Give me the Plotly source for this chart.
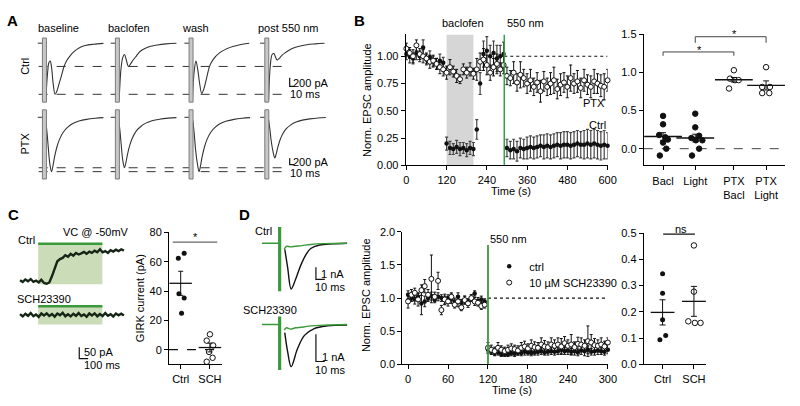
import plotly.graph_objects as go

W, H = 800, 406
FONT = "Liberation Sans, Arial, Helvetica, sans-serif"
BLACK = "#111111"
GREEN = "#3a9a3a"
GREEN_B = "#33a24a"
LIGHT_GREEN = "#cadcb8"


def px(x):
    return x / W


def py(y):
    return 1 - y / H


# ======================= DATA =======================
# ---- Panel A: example EPSCs (t: ms after stimulus, i: pA)
A_columns = ["baseline", "baclofen", "wash", "post 550 nm"]
A_pre_t = [-15, -3]
A_pre_i = [0, 0]
A_ctrl_baseline_t = [3, 7, 10, 13, 16, 20, 24, 28, 33, 38, 44, 50, 57, 66, 78, 92, 110, 133]
A_ctrl_baseline_i = [-1300, -700, -450, -410, -550, -950, -1171, -1100, -930, -760, -540, -400, -300, -200, -110, -55, -25, -5]
A_ctrl_baclofen_t = [4, 8, 12, 16, 20, 25, 30, 36, 43, 51, 62, 75, 90, 110, 133]
A_ctrl_baclofen_i = [-1300, -600, -330, -260, -380, -533, -470, -380, -290, -190, -120, -70, -40, -15, 0]
A_ctrl_wash_t = [3, 7, 11, 15, 19, 24, 29, 35, 42, 50, 64, 80, 94, 110, 131]
A_ctrl_wash_i = [-1300, -650, -409, -600, -900, -1150, -1040, -800, -520, -370, -222, -130, -75, -35, 0]
A_ctrl_post_t = [4, 8, 12, 16, 20, 23, 28, 34, 41, 50, 60, 71, 90, 110, 130]
A_ctrl_post_i = [-1300, -500, -260, -238, -330, -387, -350, -280, -222, -160, -110, -75, -35, -15, 0]
A_ptx_baseline_t = [3, 6, 9, 12, 16, 19, 23, 28, 34, 42, 52, 64, 78, 95, 115, 133]
A_ptx_baseline_i = [-100, -500, -1000, -1450, -1723, -1560, -1250, -950, -700, -480, -320, -200, -120, -65, -30, -10]
A_ptx_baclofen_t = [3, 6, 9, 12, 16, 19, 23, 28, 34, 42, 52, 64, 78, 95, 115, 133]
A_ptx_baclofen_i = [-90, -460, -930, -1350, -1600, -1450, -1160, -880, -650, -445, -300, -185, -110, -60, -27, -9]
A_ptx_wash_t = [4, 7, 10, 14, 18, 21, 25, 30, 36, 44, 54, 66, 80, 97, 115, 133]
A_ptx_wash_i = [-100, -500, -1000, -1450, -1723, -1560, -1250, -950, -700, -480, -320, -200, -120, -65, -30, -10]
A_ptx_post_t = [4, 7, 10, 14, 18, 21, 25, 30, 36, 44, 54, 66, 80, 97, 115, 133]
A_ptx_post_i = [-80, -380, -760, -1090, -1292, -1170, -940, -710, -525, -360, -240, -150, -90, -50, -22, -8]
A_ctrl_ref_pA = [-533, -1171]
A_ptx_ref_pA = [-1600, -1723]
A_scale_pA = 200
A_scale_ms = 10

# ---- Panel B: normalised EPSC amplitude time course
B_time = list(range(0, 601, 10))
B_ctrl_mean = [1.02, 1.00, 0.98, 1.03, 1.00, 1.08, 0.97, 0.99, 0.95, 0.93, 0.96, 0.94,
               0.20, 0.16, 0.15, 0.17, 0.15, 0.16, 0.14, 0.16, 0.15,
               0.33, 0.75,
               1.02, 1.05, 1.00, 1.03, 0.98, 1.00, 1.02,
               0.16, 0.14, 0.15, 0.13, 0.16, 0.15, 0.16, 0.17, 0.16, 0.17,
               0.18, 0.17, 0.18, 0.17, 0.18, 0.19, 0.18, 0.19, 0.19, 0.18,
               0.19, 0.20, 0.19, 0.19, 0.20, 0.19, 0.20, 0.19, 0.18, 0.19, 0.18]
B_ctrl_sem = [0.05, 0.06, 0.05, 0.06, 0.05, 0.07, 0.05, 0.06, 0.05, 0.05, 0.06, 0.05,
              0.06, 0.06, 0.05, 0.06, 0.06, 0.05, 0.06, 0.06, 0.06,
              0.09, 0.10,
              0.12, 0.13, 0.10, 0.11, 0.12, 0.10, 0.11,
              0.08, 0.08, 0.09, 0.09, 0.09, 0.09, 0.10, 0.10, 0.10, 0.10,
              0.10, 0.11, 0.11, 0.11, 0.11, 0.11, 0.12, 0.12, 0.12, 0.12,
              0.12, 0.12, 0.12, 0.13, 0.13, 0.13, 0.13, 0.13, 0.13, 0.13, 0.12]
B_ptx_mean = [1.07, 1.03, 1.00, 1.10, 1.02, 1.00, 0.98, 0.95, 0.96, 0.93, 0.90, 0.88,
              0.85, 0.90, 0.86, 0.82, 0.79, 0.88, 0.85, 0.88, 0.84,
              0.88, 0.95, 0.97, 0.92, 0.85, 0.90, 0.93, 0.88, 0.92,
              0.82, 0.80, 0.85, 0.76, 0.83, 0.80, 0.75, 0.78, 0.72, 0.76,
              0.68, 0.77, 0.72, 0.75, 0.78, 0.70, 0.74, 0.76, 0.72, 0.80,
              0.75, 0.77, 0.71, 0.78, 0.74, 0.72, 0.77, 0.75, 0.73, 0.72, 0.78]
B_ptx_sem = [0.05, 0.05, 0.06, 0.05, 0.05, 0.06, 0.05, 0.06, 0.05, 0.05, 0.06, 0.06,
             0.06, 0.07, 0.05, 0.06, 0.04, 0.05, 0.05, 0.06, 0.05,
             0.10, 0.08, 0.10, 0.09, 0.07, 0.08, 0.09, 0.06, 0.08,
             0.08, 0.07, 0.10, 0.08, 0.12, 0.08, 0.09, 0.10, 0.08, 0.09,
             0.10, 0.09, 0.08, 0.10, 0.12, 0.09, 0.10, 0.09, 0.10, 0.12,
             0.09, 0.10, 0.09, 0.10, 0.09, 0.10, 0.11, 0.09, 0.10, 0.12, 0.10]
B_baclofen_window = [120, 200]
B_light_on = 292

# ---- Panel B (right): summary
B_groups = ["Bacl", "Light", "PTX<br>Bacl", "PTX<br>Light"]
B_bacl_pts = [0.43, 0.32, 0.18, 0.15, 0.12, 0.08, 0.0, -0.09]
B_bacl_jit = [0.0, 0.0, -0.12, 0.07, 0.15, 0.0, 0.1, -0.1]
B_light_pts = [0.46, 0.28, 0.17, 0.14, 0.11, 0.11, 0.0, -0.09]
B_light_jit = [0.0, 0.0, 0.12, -0.12, 0.02, 0.22, 0.12, -0.1]
B_ptxbacl_pts = [1.03, 0.92, 0.90, 0.90, 0.79]
B_ptxbacl_jit = [0.0, -0.12, 0.03, 0.15, -0.15]
B_ptxlight_pts = [1.07, 0.81, 0.81, 0.73, 0.73]
B_ptxlight_jit = [0.0, -0.12, 0.12, -0.12, 0.1]
B_sum_mean = [0.16, 0.14, 0.905, 0.83]
B_sum_sem = [0.05, 0.05, 0.03, 0.06]

# ---- Panel C: GIRK currents
C_t = list(range(0, 1200, 30))
C_ctrl_i = [2, -6, 5, -3, 7, -5, 0, -8, 4, -10,
            -14, -8, 20, 55, 85, 95, 100, 112, 105, 118,
            110, 122, 115, 120, 126, 118, 128, 122, 132, 125,
            138, 125, 130, 122, 134, 128, 136, 130, 138, 132]
C_sch_i = [3, -7, 5, -4, 8, -6, 2, -9, 6, -3, 7, -5, 4, -8, 6, -2, 9, -6, 3, -7,
           5, -4, 8, -5, 2, -8, 6, -3, 7, -6, 4, -5, 8, -4, 3, -7, 6, -2, 5, -3]
C_light = [204, 927]
C_scale_pA = 50
C_scale_ms = 100
C_groups = ["Ctrl", "SCH"]
C_ctrl_pts = [62.4, 65.7, 38.1, 35.3, 24.9]
C_ctrl_jit = [-0.08, 0.12, -0.06, 0.12, 0.03]
C_sch_pts = [10.5, 6.2, 2.9, -1.5, -5.5, -8.2]
C_sch_jit = [0.0, -0.11, 0.11, -0.03, 0.09, -0.11]
C_mean = [45.3, 1.5]
C_sem = [8.2, 3.0]

# ---- Panel D: example EPSCs (t: ms, i: nA)
D_pre_t = [-20, -1]
D_pre_i = [0, 0]
D_ctrl_black_t = [5.8, 9, 13, 18, 24, 30, 35, 45, 60, 76]
D_ctrl_black_i = [-0.5, -2.0, -3.8, -3.0, -1.8, -0.9, -0.44, -0.15, -0.05, 0.0]
D_ctrl_green_t = [5, 8, 12, 18, 25, 35, 50, 76]
D_ctrl_green_i = [-0.5, -0.25, -0.3, -0.25, -0.2, -0.1, -0.03, 0.0]
D_sch_black_t = [5.8, 9, 13, 20, 28, 39, 54, 76]
D_sch_black_i = [-0.3, -1.0, -1.55, -0.9, -0.4, -0.15, -0.05, -0.02]
D_sch_green_t = [5, 8, 12, 18, 25, 35, 50, 76]
D_sch_green_i = [-0.2, -0.12, -0.17, -0.12, -0.1, -0.05, -0.02, 0.0]
D_scale_nA = 1
D_scale_ms = 10

# ---- Panel D: time course
D_time = list(range(0, 301, 5))
D_ctrl_mean = [1.05, 1.00, 0.98, 1.02, 0.92, 0.95, 1.00, 1.03, 0.98, 1.02, 1.00, 0.97,
               1.00, 0.99, 0.95, 1.02, 0.93, 0.97, 0.94, 1.00, 1.07, 0.96, 0.98, 0.95,
               0.22, 0.20, 0.17, 0.18, 0.15, 0.16, 0.15, 0.17, 0.16, 0.18,
               0.17, 0.19, 0.18, 0.17, 0.18, 0.19, 0.20, 0.18, 0.19, 0.20,
               0.19, 0.20, 0.22, 0.20, 0.21, 0.19, 0.20, 0.18, 0.21, 0.20,
               0.22, 0.19, 0.20, 0.21, 0.20, 0.19, 0.22]
D_ctrl_sem = [0.06, 0.05, 0.07, 0.05, 0.17, 0.08, 0.05, 0.06, 0.05, 0.06, 0.05, 0.06,
              0.05, 0.07, 0.05, 0.06, 0.05, 0.06, 0.05, 0.05, 0.04, 0.05, 0.05, 0.04,
              0.05, 0.04, 0.04, 0.04, 0.03, 0.04, 0.03, 0.04, 0.04, 0.04,
              0.04, 0.05, 0.04, 0.04, 0.04, 0.05, 0.05, 0.04, 0.05, 0.05,
              0.05, 0.05, 0.06, 0.05, 0.06, 0.05, 0.06, 0.05, 0.06, 0.07,
              0.06, 0.05, 0.06, 0.06, 0.05, 0.05, 0.06]
D_sch_mean = [0.95, 1.05, 1.08, 0.98, 1.12, 1.18, 1.05, 1.29, 1.02, 1.26, 0.82, 0.98,
              0.95, 1.02, 0.90, 0.95, 0.86, 0.97, 0.92, 1.00, 0.95, 0.93, 0.88, 0.90,
              0.25, 0.22, 0.20, 0.25, 0.22, 0.20, 0.22, 0.24, 0.23, 0.21,
              0.25, 0.27, 0.24, 0.28, 0.26, 0.25, 0.30, 0.27, 0.26, 0.30,
              0.28, 0.30, 0.27, 0.32, 0.28, 0.30, 0.26, 0.31, 0.30, 0.28,
              0.35, 0.33, 0.29, 0.28, 0.30, 0.27, 0.33]
D_sch_sem = [0.10, 0.08, 0.07, 0.10, 0.08, 0.10, 0.08, 0.36, 0.07, 0.13, 0.07, 0.08,
             0.07, 0.06, 0.05, 0.08, 0.05, 0.06, 0.06, 0.05, 0.06, 0.05, 0.05, 0.05,
             0.08, 0.07, 0.06, 0.08, 0.06, 0.06, 0.07, 0.07, 0.06, 0.07,
             0.08, 0.08, 0.07, 0.09, 0.08, 0.08, 0.10, 0.09, 0.08, 0.10,
             0.09, 0.10, 0.12, 0.10, 0.09, 0.15, 0.08, 0.10, 0.10, 0.09,
             0.23, 0.12, 0.10, 0.09, 0.10, 0.08, 0.07]
D_light_on = 120

# ---- Panel D (right): summary
D_groups = ["Ctrl", "SCH"]
D_ctrl_pts = [0.345, 0.271, 0.17, 0.11, 0.094]
D_ctrl_jit = [0.0, 0.0, 0.0, 0.1, -0.085]
D_sch_pts = [0.453, 0.277, 0.164, 0.158, 0.158]
D_sch_jit = [0.0, 0.0, -0.18, 0.03, 0.21]
D_mean = [0.198, 0.24]
D_sem = [0.048, 0.057]

# ======================= FIGURE =======================
fig = go.Figure()
layout = dict(width=W, height=H, margin=dict(l=0, r=0, t=0, b=0), autosize=False,
              paper_bgcolor="white", plot_bgcolor="rgba(0,0,0,0)",
              font=dict(family=FONT, size=11, color="black"), showlegend=True)
annotations = []
shapes = []


def axis_pair(n, xd, yd, xr, yr, visible=True):
    xs = "xaxis" if n == 1 else f"xaxis{n}"
    ys = "yaxis" if n == 1 else f"yaxis{n}"
    xn = "x" if n == 1 else f"x{n}"
    yn = "y" if n == 1 else f"y{n}"
    base = dict(showgrid=False, zeroline=False, fixedrange=True)
    if visible:
        style = dict(showline=True, linecolor="black", linewidth=1, ticks="outside",
                     ticklen=4, tickwidth=1, tickcolor="black",
                     tickfont=dict(size=11, family=FONT, color="black"))
    else:
        style = dict(visible=False)
    layout[xs] = dict(domain=[px(xd[0]), px(xd[1])], range=xr, anchor=yn, **base, **style)
    layout[ys] = dict(domain=[py(yd[1]), py(yd[0])], range=yr, anchor=xn, **base, **style)
    return xn, yn


def txt(s, x, y, size=11, xanchor="center", yanchor="middle", angle=0, bold=False):
    annotations.append(dict(text=f"<b>{s}</b>" if bold else s, x=px(x), y=py(y),
                            xref="paper", yref="paper", showarrow=False,
                            font=dict(size=size, family=FONT, color="black"),
                            xanchor=xanchor, yanchor=yanchor, textangle=angle))


def line(xa, ya, xs, ys, color=BLACK, width=1.0, dash="solid", shape="linear"):
    fig.add_trace(go.Scatter(x=xs, y=ys, xaxis=xa, yaxis=ya, mode="lines",
                             line=dict(color=color, width=width, dash=dash, shape=shape),
                             hoverinfo="skip", showlegend=False, cliponaxis=False))


# ---------------- Panel A ----------------
A_px_per_ms = 0.45
A_offsets = [43 / A_px_per_ms, 117 / A_px_per_ms, 191.7 / A_px_per_ms, 268.5 / A_px_per_ms]
xa1, ya1 = axis_pair(1, (0, 360), (20, 100), [0, 800], [-1371, 407], visible=False)
xa2, ya2 = axis_pair(2, (0, 360), (100, 182), [0, 800], [-2071, 452], visible=False)

A_rows = [
    (xa1, ya1, [(A_ctrl_baseline_t, A_ctrl_baseline_i), (A_ctrl_baclofen_t, A_ctrl_baclofen_i),
                (A_ctrl_wash_t, A_ctrl_wash_i), (A_ctrl_post_t, A_ctrl_post_i)],
     A_ctrl_ref_pA, (118, -1350), -990),
    (xa2, ya2, [(A_ptx_baseline_t, A_ptx_baseline_i), (A_ptx_baclofen_t, A_ptx_baclofen_i),
                (A_ptx_wash_t, A_ptx_wash_i), (A_ptx_post_t, A_ptx_post_i)],
     A_ptx_ref_pA, (237, -1957), -1502),
]
for xa, ya, traces, refs, (art_top, art_bot), sb_bottom in A_rows:
    for off, (tt, ii) in zip(A_offsets, traces):
        shapes.append(dict(type="rect", xref=xa, yref=ya, x0=off - 4.5, x1=off + 4.5,
                           y0=art_bot, y1=art_top, fillcolor="#c8c8c8",
                           line=dict(color="#7a7a7a", width=1), layer="above"))
        line(xa, ya, [off + t for t in A_pre_t], A_pre_i, color="#333333", width=1)
        line(xa, ya, [off + t for t in tt], ii, color="#333333", width=1.1, shape="spline")
    for r in refs:
        line(xa, ya, [A_offsets[0] - 13, A_offsets[3] + 38], [r, r], color="#333333",
             width=1, dash="dash")
    sbx = 291.7 / A_px_per_ms
    line(xa, ya, [sbx, sbx, sbx + A_scale_ms], [sb_bottom + A_scale_pA, sb_bottom, sb_bottom],
         color=BLACK, width=1.2)

for name, xc in zip(A_columns, [57, 129, 196, 290]):
    txt(name, xc, 22.5)
txt("Ctrl", 23, 62, angle=-90)
txt("PTX", 23, 142, angle=-90)
txt("200 pA", 293, 79, xanchor="left")
txt("10 ms", 307.5, 91)
txt("200 pA", 293, 160.5, xanchor="left")
txt("10 ms", 307.5, 172.5)

# ---------------- Panel B (time course) ----------------
xa3, ya3 = axis_pair(3, (409.3, 614), (29.3, 164.3), [-2, 600], [0, 1.2])
layout["xaxis3"].update(tickvals=[0, 120, 240, 360, 480, 600])
layout["yaxis3"].update(tickvals=[0, 0.25, 0.5, 0.75, 1.0],
                        ticktext=["0.00", "0.25", "0.50", "0.75", "1.00"])
shapes.append(dict(type="rect", xref=xa3, yref=ya3, x0=B_baclofen_window[0],
                   x1=B_baclofen_window[1], y0=0, y1=1.2, fillcolor="#d6d6d6",
                   line=dict(width=0), layer="below"))
line(xa3, ya3, [B_light_on, 600], [1.0, 1.0], color=BLACK, width=1.2, dash="dot")
fig.add_trace(go.Scatter(x=B_time, y=B_ctrl_mean, xaxis=xa3, yaxis=ya3, mode="markers",
                         marker=dict(symbol="circle", size=4.5, color=BLACK),
                         error_y=dict(type="data", array=B_ctrl_sem, color="#444444",
                                      thickness=1.2, width=1.5),
                         showlegend=False, cliponaxis=False, hoverinfo="skip"))
fig.add_trace(go.Scatter(x=B_time, y=B_ptx_mean, xaxis=xa3, yaxis=ya3, mode="markers",
                         marker=dict(symbol="circle", size=5, color="white",
                                     line=dict(color=BLACK, width=1)),
                         error_y=dict(type="data", array=B_ptx_sem, color=BLACK,
                                      thickness=1, width=1.5),
                         showlegend=False, cliponaxis=False, hoverinfo="skip"))
line(xa3, ya3, [B_light_on, B_light_on], [0, 1.2], color=GREEN_B, width=1.5)
txt("baclofen", 467, 18)
txt("550 nm", 531, 18)
txt("PTX", 613, 100, xanchor="right")
txt("Ctrl", 614, 122.5, xanchor="right")
txt("Norm. EPSC amplitude", 370, 97, angle=-90)
txt("Time (s)", 516.5, 191)

# ---------------- Panel B (summary) ----------------
B_pos = [0.6, 1.6, 2.8, 3.8]
xa4, ya4 = axis_pair(4, (650.7, 794.3), (29.3, 164.3), [0, 4.4], [-0.22, 1.5])
layout["xaxis4"].update(tickvals=B_pos, ticktext=B_groups, ticklabelstandoff=1)
layout["yaxis4"].update(tickvals=[0, 0.5, 1.0, 1.5], ticktext=["0.0", "0.5", "1.0", "1.5"])
line(xa4, ya4, [0, 4.4], [0, 0], color="#444444", width=1, dash="dash")
for pos, pts, jit, filled in [(B_pos[0], B_bacl_pts, B_bacl_jit, True),
                              (B_pos[1], B_light_pts, B_light_jit, True),
                              (B_pos[2], B_ptxbacl_pts, B_ptxbacl_jit, False),
                              (B_pos[3], B_ptxlight_pts, B_ptxlight_jit, False)]:
    fig.add_trace(go.Scatter(x=[pos + j for j in jit], y=pts, xaxis=xa4, yaxis=ya4,
                             mode="markers",
                             marker=dict(symbol="circle", size=5.5,
                                         color=BLACK if filled else "white",
                                         line=dict(color=BLACK, width=1)),
                             showlegend=False, cliponaxis=False, hoverinfo="skip"))
fig.add_trace(go.Scatter(x=B_pos, y=B_sum_mean, xaxis=xa4, yaxis=ya4, mode="markers",
                         marker=dict(symbol="line-ew", size=27, line=dict(color=BLACK, width=1.3)),
                         error_y=dict(type="data", array=B_sum_sem, color=BLACK, thickness=1, width=3),
                         showlegend=False, cliponaxis=False, hoverinfo="skip"))
line(xa4, ya4, [B_pos[0], B_pos[0], B_pos[2], B_pos[2]], [1.22, 1.27, 1.27, 1.22], color="#444444")
line(xa4, ya4, [B_pos[1], B_pos[1], B_pos[3], B_pos[3]], [1.39, 1.47, 1.47, 1.39], color="#444444")
txt("*", 707.3, 45)
txt("*", 742.3, 28.5)

# ---------------- Panel C traces ----------------
C_px_per_ms = 0.09
xa5, ya5 = axis_pair(5, (15, 130), (238, 292), [-3.3 / C_px_per_ms, 111.7 / C_px_per_ms],
                     [-38.5, 192.3], visible=False)
xa6, ya6 = axis_pair(6, (15, 130), (305, 370), [-3.3 / C_px_per_ms, 111.7 / C_px_per_ms],
                     [-221, 56.8], visible=False)
for xa, ya, top, bot, ii in [(xa5, ya5, 162, -15.8, C_ctrl_i), (xa6, ya6, 38.5, -42.7, C_sch_i)]:
    shapes.append(dict(type="rect", xref=xa, yref=ya, x0=C_light[0], x1=C_light[1],
                       y0=bot, y1=top, fillcolor=LIGHT_GREEN, line=dict(width=0), layer="below"))
    line(xa, ya, C_light, [top, top], color=GREEN, width=2.5)
    line(xa, ya, C_t, ii, color="#152515", width=2.4)
sbx = 667
line(xa6, ya6, [sbx, sbx, sbx + C_scale_ms], [-192.3 + C_scale_pA, -192.3, -192.3],
     color=BLACK, width=1.2)
txt("Ctrl", 25, 241)
txt("VC @ -50mV", 95, 233)
txt("SCH23390", 13, 301.5, xanchor="left")
txt("50 pA", 81.5, 357, xanchor="left")
txt("100 ms", 101.7, 369.5)

# ---------------- Panel C summary ----------------
C_pos = [0.4, 1.4]
xa7, ya7 = axis_pair(7, (169.3, 222.7), (233.3, 369.3), [0, 1.8], [-10, 80])
layout["xaxis7"].update(tickvals=C_pos, ticktext=C_groups)
layout["yaxis7"].update(tickvals=[0, 20, 40, 60, 80])
line(xa7, ya7, [0, 1.8], [0, 0], color=BLACK, width=1.3, dash="dash")
fig.add_trace(go.Scatter(x=[C_pos[0] + j for j in C_ctrl_jit], y=C_ctrl_pts, xaxis=xa7, yaxis=ya7,
                         mode="markers", marker=dict(size=5, color=BLACK),
                         showlegend=False, cliponaxis=False, hoverinfo="skip"))
fig.add_trace(go.Scatter(x=[C_pos[1] + j for j in C_sch_jit], y=C_sch_pts, xaxis=xa7, yaxis=ya7,
                         mode="markers", marker=dict(size=5.5, color="white", line=dict(color=BLACK, width=1)),
                         showlegend=False, cliponaxis=False, hoverinfo="skip"))
fig.add_trace(go.Scatter(x=C_pos, y=C_mean, xaxis=xa7, yaxis=ya7, mode="markers",
                         marker=dict(symbol="line-ew", size=16, line=dict(color=BLACK, width=1.3)),
                         error_y=dict(type="data", array=C_sem, color=BLACK, thickness=1, width=2.5),
                         showlegend=False, cliponaxis=False, hoverinfo="skip"))
line(xa7, ya7, [0.13, 1.65], [73.4, 73.4], color="#666666", width=1.2)
txt("*", 196.7, 238)
txt("GIRK current (pA)", 140, 301, angle=-90)

# ---------------- Panel D traces ----------------
D_px_per_ms = 0.9
xa8, ya8 = axis_pair(8, (258, 356), (225, 300), [-23.5 / D_px_per_ms, 74.5 / D_px_per_ms],
                     [-4.48, 1.57], visible=False)
xa9, ya9 = axis_pair(9, (258, 356), (305, 382), [-23.5 / D_px_per_ms, 74.5 / D_px_per_ms],
                     [-1.92, 0.83], visible=False)
for xa, ya, bt, bi, gt, gi, art in [
        (xa8, ya8, D_ctrl_black_t, D_ctrl_black_i, D_ctrl_green_t, D_ctrl_green_i, (1.35, -4.0)),
        (xa9, ya9, D_sch_black_t, D_sch_black_i, D_sch_green_t, D_sch_green_i, (0.3, -1.67))]:
    line(xa, ya, bt, bi, color=BLACK, width=1.4, shape="spline")
    line(xa, ya, D_pre_t, D_pre_i, color=GREEN, width=1.4)
    line(xa, ya, gt, gi, color=GREEN, width=1.4, shape="spline")
    line(xa, ya, [0, 0], list(art), color=GREEN, width=3.2)
sbx = (318.3 - 281.5) / D_px_per_ms
line(xa8, ya8, [sbx, sbx, sbx + D_scale_ms], [-3.0 + D_scale_nA, -3.0, -3.0], color=BLACK, width=1.2)
line(xa9, ya9, [sbx, sbx, sbx + D_scale_ms], [-1.36 + D_scale_nA, -1.36, -1.36], color=BLACK, width=1.2)
txt("Ctrl", 265, 232)
txt("SCH23390", 272, 313)
txt("1 nA", 321.5, 276, xanchor="left")
txt("10 ms", 333, 290)
txt("1 nA", 322, 362, xanchor="left")
txt("10 ms", 333, 375.5)

# ---------------- Panel D time course ----------------
xa10, ya10 = axis_pair(10, (406, 614.3), (232.7, 369.3), [-8.5, 300], [0, 2.0])
layout["xaxis10"].update(tickvals=[0, 60, 120, 180, 240, 300])
layout["yaxis10"].update(tickvals=[0, 0.5, 1.0, 1.5, 2.0], ticktext=["0.0", "0.5", "1.0", "1.5", "2.0"])
line(xa10, ya10, [D_light_on, 300], [1.0, 1.0], color=BLACK, width=1.3, dash="dot")
fig.add_trace(go.Scatter(x=D_time, y=D_ctrl_mean, xaxis=xa10, yaxis=ya10, mode="markers",
                         name="ctrl", legend="legend",
                         marker=dict(symbol="circle", size=4.5, color=BLACK),
                         error_y=dict(type="data", array=D_ctrl_sem, color=BLACK, thickness=1, width=1.5),
                         cliponaxis=False, hoverinfo="skip"))
fig.add_trace(go.Scatter(x=D_time, y=D_sch_mean, xaxis=xa10, yaxis=ya10, mode="markers",
                         name="10 µM SCH23390", legend="legend2",
                         marker=dict(symbol="circle", size=5, color="white", line=dict(color=BLACK, width=1)),
                         error_y=dict(type="data", array=D_sch_sem, color=BLACK, thickness=1, width=1.5),
                         cliponaxis=False, hoverinfo="skip"))
line(xa10, ya10, [D_light_on, D_light_on], [0, 1.8], color=GREEN, width=1.8)
txt("550 nm", 492.3, 240, xanchor="left")
txt("Norm. EPSC amplitude", 369, 298, angle=-90)
txt("Time (s)", 516.7, 395.5)
for key, ymid in [("legend", 268.3), ("legend2", 285)]:
    layout[key] = dict(x=px(494), y=py(ymid), xanchor="left", yanchor="middle",
                       bgcolor="rgba(0,0,0,0)", borderwidth=0, itemwidth=30,
                       font=dict(size=11, family=FONT, color="black"))

# ---------------- Panel D summary ----------------
D_pos = [0.6, 1.6]
xa11, ya11 = axis_pair(11, (650.7, 714.3), (234, 369.3), [0, 2], [0, 0.5])
layout["xaxis11"].update(tickvals=D_pos, ticktext=D_groups)
layout["yaxis11"].update(tickvals=[0, 0.1, 0.2, 0.3, 0.4, 0.5],
                         ticktext=["0.0", "0.1", "0.2", "0.3", "0.4", "0.5"])
fig.add_trace(go.Scatter(x=[D_pos[0] + j for j in D_ctrl_jit], y=D_ctrl_pts, xaxis=xa11, yaxis=ya11,
                         mode="markers", marker=dict(size=5, color=BLACK),
                         showlegend=False, cliponaxis=False, hoverinfo="skip"))
fig.add_trace(go.Scatter(x=[D_pos[1] + j for j in D_sch_jit], y=D_sch_pts, xaxis=xa11, yaxis=ya11,
                         mode="markers", marker=dict(size=5.5, color="white", line=dict(color=BLACK, width=1)),
                         showlegend=False, cliponaxis=False, hoverinfo="skip"))
fig.add_trace(go.Scatter(x=D_pos, y=D_mean, xaxis=xa11, yaxis=ya11, mode="markers",
                         marker=dict(symbol="line-ew", size=17, line=dict(color=BLACK, width=1.3)),
                         error_y=dict(type="data", array=D_sem, color=BLACK, thickness=1, width=3),
                         showlegend=False, cliponaxis=False, hoverinfo="skip"))
line(xa11, ya11, [0.62, 1.63], [0.496, 0.496], color=BLACK, width=1.2)
txt("ns", 688.3, 229.5)

# ---------------- Panel letters ----------------
txt("A", 11, 15, size=15, bold=True)
txt("B", 362, 15, size=15, bold=True)
txt("C", 12, 215, size=15, bold=True)
txt("D", 246, 215, size=15, bold=True)

layout["annotations"] = annotations
layout["shapes"] = shapes
fig.update_layout(**layout)
fig.write_html("out.html", config={"displayModeBar": False},
               post_script="document.body.style.margin='0';document.body.style.overflow='hidden';")
